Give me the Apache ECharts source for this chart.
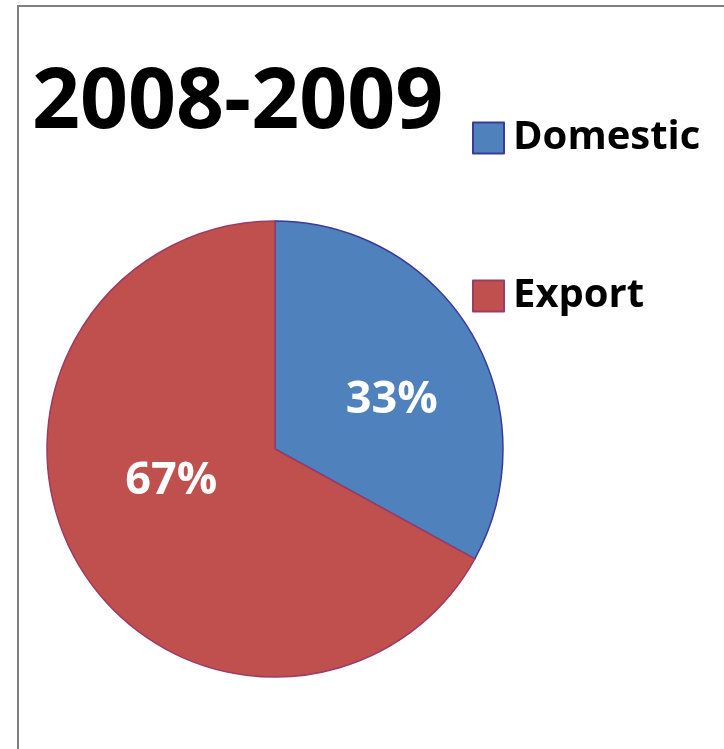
<!DOCTYPE html>
<html>
<head>
<meta charset="utf-8">
<script src="https://cdn.jsdelivr.net/npm/echarts@6/dist/echarts.min.js"></script>
<style>
html,body{margin:0;padding:0;background:#fff;}
#chart{width:724px;height:749px;}
</style>
</head>
<body>
<div id="chart"></div>
<script>
const titleText = '2008-2009';
const categories = ['Domestic', 'Export'];
const values = [33, 67];
const fillColors = ['#4F81BD', '#C0504D'];
const borderColors = ['#3A3A9C', '#9E3A66'];
const labelShift = [[16, 11], [-3, -27]];

const chart = echarts.init(document.getElementById('chart'));
const option = {
  backgroundColor: '#ffffff',
  animation: false,
  title: {
    text: titleText,
    left: 27,
    top: 57,
    textStyle: { fontFamily: 'Open Sans', fontWeight: 'bold', fontSize: 84, color: '#000' }
  },
  legend: {
    orient: 'vertical',
    left: 467,
    top: 113,
    icon: 'rect',
    itemWidth: 31,
    itemHeight: 31,
    itemGap: 118,
    textStyle: { fontFamily: 'Open Sans', fontWeight: 'bold', fontSize: 40, color: '#000', lineHeight: 23, padding: [8, 0, 0, 4] },
    data: categories
  },
  graphic: [{
    type: 'rect',
    shape: { x: 18, y: 6, width: 900, height: 900 },
    style: { fill: 'none', stroke: '#808080', lineWidth: 2 },
    silent: true
  }],
  series: [{
    type: 'pie',
    center: [275, 449],
    radius: 228,
    startAngle: 90,
    clockwise: true,
    label: {
      show: true,
      position: 'inside',
      formatter: '{d}%',
      fontFamily: 'Open Sans',
      fontWeight: 'bold',
      fontSize: 45,
      color: '#fff'
    },
    labelLayout: function (params) {
      const s = labelShift[params.dataIndex];
      return { dx: s[0], dy: s[1] };
    },
    emphasis: { disabled: true },
    data: categories.map((c, i) => ({
      name: c,
      value: values[i],
      itemStyle: { color: fillColors[i], borderColor: borderColors[i], borderWidth: 1.5 }
    }))
  }]
};
chart.setOption(option);
</script>
</body>
</html>
